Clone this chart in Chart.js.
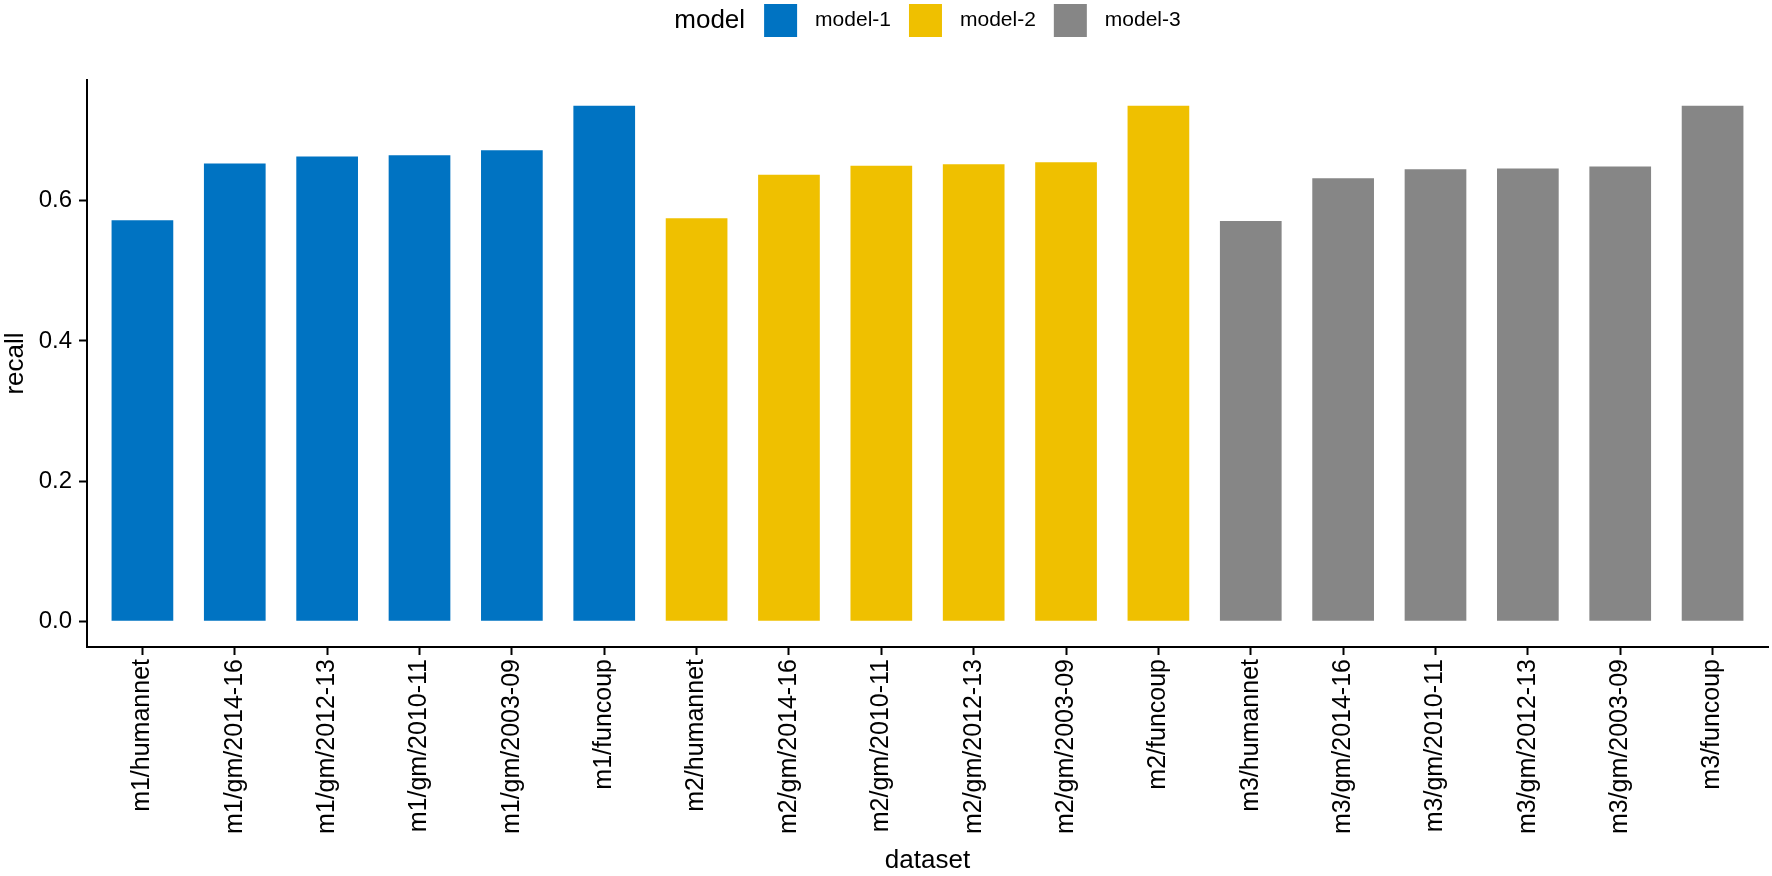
<!DOCTYPE html>
<html>
<head>
<meta charset="utf-8">
<script src="https://cdn.jsdelivr.net/npm/chart.js@4/dist/chart.umd.min.js"></script>
<style>
  html, body { margin: 0; padding: 0; background: #fff; }
  #chart { display: block; }
</style>
</head>
<body>
<canvas id="chart" width="1772" height="876"></canvas>
<script>
const datasetLabels = [
    "m1/humannet", "m1/gm/2014-16", "m1/gm/2012-13", "m1/gm/2010-11", "m1/gm/2003-09", "m1/funcoup",
    "m2/humannet", "m2/gm/2014-16", "m2/gm/2010-11", "m2/gm/2012-13", "m2/gm/2003-09", "m2/funcoup",
    "m3/humannet", "m3/gm/2014-16", "m3/gm/2010-11", "m3/gm/2012-13", "m3/gm/2003-09", "m3/funcoup"
];
const modelNames = ["model-1", "model-2", "model-3"];
const model1Recall = [0.572, 0.653, 0.663, 0.665, 0.672, 0.7355];
const model2Recall = [0.575, 0.637, 0.650, 0.652, 0.655, 0.7355];
const model3Recall = [0.571, 0.632, 0.645, 0.646, 0.649, 0.7355];
const yTicks = [0, 0.2, 0.4, 0.6];

const modelColors = ["#0073C2", "#EFC000", "#868686"];
const FONT = "'Liberation Sans', Arial, Helvetica, sans-serif";

// each model owns six consecutive slots on the x axis
function toPoints(values, start) {
    return values.map((v, i) => ({ x: start + i, y: v }));
}

const allRecall = [model1Recall, model2Recall, model3Recall];
const datasets = allRecall.map((vals, k) => ({
    label: modelNames[k],
    data: toPoints(vals, k * 6),
    backgroundColor: modelColors[k],
    borderWidth: 0,
    grouped: false,
    barPercentage: 0.668,
    categoryPercentage: 1
}));

// ggplot style legend: "model" title inline with the keys, centred over the panel
const inlineLegend = {
    id: "inlineLegend",
    afterDraw(chart) {
        const ctx = chart.ctx;
        const area = chart.chartArea;
        const titleFont = "26px " + FONT;
        const itemFont = "21px " + FONT;
        const box = 33, gap = 18, titleGap = 19;
        const cy = 20.5;

        ctx.save();
        ctx.font = titleFont;
        const titleW = ctx.measureText("model").width;
        ctx.font = itemFont;
        const widths = chart.data.datasets.map(d => ctx.measureText(d.label).width);
        let total = titleW + titleGap;
        widths.forEach((w, i) => { total += box + gap + w + (i < widths.length - 1 ? gap : 0); });

        let x = (area.left + area.right) / 2 - total / 2;
        ctx.textBaseline = "middle";
        ctx.textAlign = "left";
        ctx.fillStyle = "#000";
        ctx.font = titleFont;
        ctx.fillText("model", x, cy);
        x += titleW + titleGap;

        ctx.font = itemFont;
        chart.data.datasets.forEach((d, i) => {
            ctx.fillStyle = d.backgroundColor;
            ctx.fillRect(x, cy - box / 2, box, box);
            x += box + gap;
            ctx.fillStyle = "#000";
            ctx.fillText(d.label, x, cy);
            x += widths[i] + gap;
        });
        ctx.restore();
    }
};

new Chart(document.getElementById("chart"), {
    type: "bar",
    data: { datasets: datasets },
    options: {
        responsive: false,
        animation: false,
        layout: { padding: { top: 80, right: 4, left: 0, bottom: 0 } },
        plugins: {
            legend: { display: false },
            tooltip: { enabled: false }
        },
        scales: {
            x: {
                type: "linear",
                min: -0.6,
                max: 17.6,
                offset: false,
                afterBuildTicks: s => { s.ticks = datasetLabels.map((_, i) => ({ value: i })); },
                afterFit: s => { s.height = 229; },
                border: { display: true, color: "#000", width: 2 },
                grid: {
                    offset: false,
                    drawOnChartArea: false,
                    drawTicks: true,
                    tickLength: 8,
                    tickColor: "#000",
                    tickWidth: 2
                },
                ticks: {
                    autoSkip: false,
                    minRotation: 90,
                    maxRotation: 90,
                    padding: 4,
                    color: "#000",
                    font: { family: FONT, size: 25 },
                    callback: v => datasetLabels[v]
                },
                title: {
                    display: true,
                    text: "dataset",
                    color: "#000",
                    font: { family: FONT, size: 26 },
                    padding: { top: 0, bottom: 0 }
                }
            },
            y: {
                min: -0.0368,
                max: 0.7723,
                afterBuildTicks: s => { s.ticks = yTicks.map(v => ({ value: v })); },
                afterFit: s => { s.width = 87; },
                border: { display: true, color: "#000", width: 2 },
                grid: {
                    drawOnChartArea: false,
                    drawTicks: true,
                    tickLength: 8,
                    tickColor: "#000",
                    tickWidth: 2
                },
                ticks: {
                    padding: 7,
                    color: "#000",
                    font: { family: FONT, size: 24 },
                    callback: v => v.toFixed(1)
                },
                title: {
                    display: true,
                    text: "recall",
                    color: "#000",
                    font: { family: FONT, size: 26 },
                    padding: { top: 0, bottom: 0 }
                }
            }
        }
    },
    plugins: [inlineLegend]
});
</script>
</body>
</html>
